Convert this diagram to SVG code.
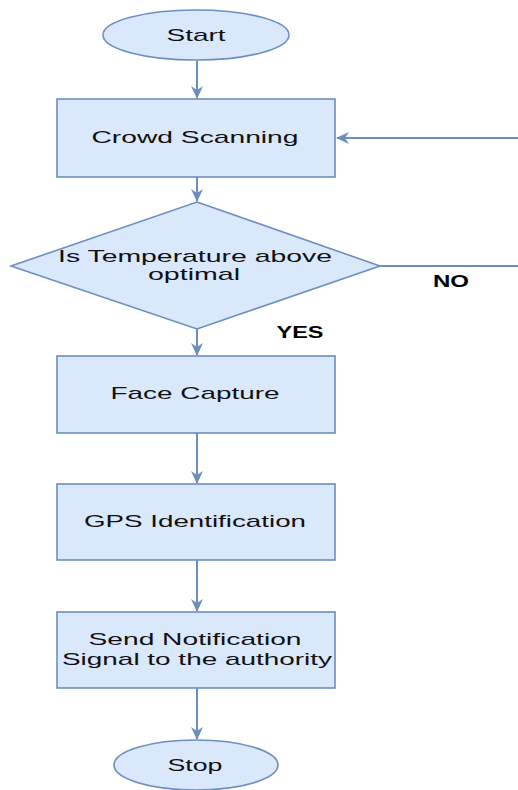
<svg xmlns="http://www.w3.org/2000/svg" width="518" height="790" viewBox="0 0 518 790">
<style>
.n{fill:#dae8fc;stroke:#6c8ebf;stroke-width:1.6}
.t{font-family:"Liberation Sans",Arial,sans-serif;font-size:17px;fill:#111;text-anchor:middle}
.b{font-family:"Liberation Sans",Arial,sans-serif;font-size:16px;font-weight:bold;fill:#000;text-anchor:middle}
.c{fill:none;stroke:#6c8ebf;stroke-width:2}
</style>
<defs>
<marker id="a" markerWidth="14" markerHeight="14" refX="12" refY="7" orient="auto" markerUnits="userSpaceOnUse">
<path d="M0,1 L13,7 L0,13 L4,7 Z" fill="#6c8ebf"/>
</marker>
</defs>
<rect width="518" height="790" fill="#fff"/>
<g id="connectors">
<line class="c" x1="197" y1="61" x2="197" y2="98" marker-end="url(#a)"/>
<line class="c" x1="197" y1="177" x2="197" y2="201" marker-end="url(#a)"/>
<line class="c" x1="197" y1="329" x2="197" y2="355" marker-end="url(#a)"/>
<line class="c" x1="197" y1="433" x2="197" y2="483" marker-end="url(#a)"/>
<line class="c" x1="197" y1="560" x2="197" y2="611" marker-end="url(#a)"/>
<line class="c" x1="197" y1="688" x2="197" y2="739" marker-end="url(#a)"/>
<line class="c" x1="518" y1="138" x2="337" y2="138" marker-end="url(#a)"/>
<line class="c" x1="380" y1="266" x2="518" y2="266"/>
<text class="b" x="451" y="287" textLength="36" lengthAdjust="spacingAndGlyphs">NO</text>
<text class="b" x="300" y="338" textLength="47" lengthAdjust="spacingAndGlyphs">YES</text>
</g>
<g id="start">
<ellipse class="n" cx="196" cy="35" rx="93" ry="25"/>
<text class="t" x="196" y="41" textLength="59" lengthAdjust="spacingAndGlyphs">Start</text>
</g>
<g id="crowd">
<rect class="n" x="57" y="99" width="278" height="78"/>
<text class="t" x="195" y="143" textLength="207" lengthAdjust="spacingAndGlyphs">Crowd Scanning</text>
</g>
<g id="decision">
<polygon class="n" points="197,202 380,266 197,329 11,266"/>
<text class="t" x="195" y="262" textLength="274" lengthAdjust="spacingAndGlyphs">Is Temperature above</text>
<text class="t" x="194" y="280" textLength="92" lengthAdjust="spacingAndGlyphs">optimal</text>
</g>
<g id="face">
<rect class="n" x="57" y="356" width="278" height="77"/>
<text class="t" x="195" y="399" textLength="169" lengthAdjust="spacingAndGlyphs">Face Capture</text>
</g>
<g id="gps">
<rect class="n" x="57" y="484" width="278" height="76"/>
<text class="t" x="195" y="527" textLength="222" lengthAdjust="spacingAndGlyphs">GPS Identification</text>
</g>
<g id="notify">
<rect class="n" x="57" y="612" width="278" height="76"/>
<text class="t" x="195" y="645" textLength="213" lengthAdjust="spacingAndGlyphs">Send Notification</text>
<text class="t" x="197" y="665" textLength="270" lengthAdjust="spacingAndGlyphs">Signal to the authority</text>
</g>
<g id="stop">
<ellipse class="n" cx="196" cy="765" rx="82" ry="25"/>
<text class="t" x="195" y="771" textLength="55" lengthAdjust="spacingAndGlyphs">Stop</text>
</g>
</svg>
